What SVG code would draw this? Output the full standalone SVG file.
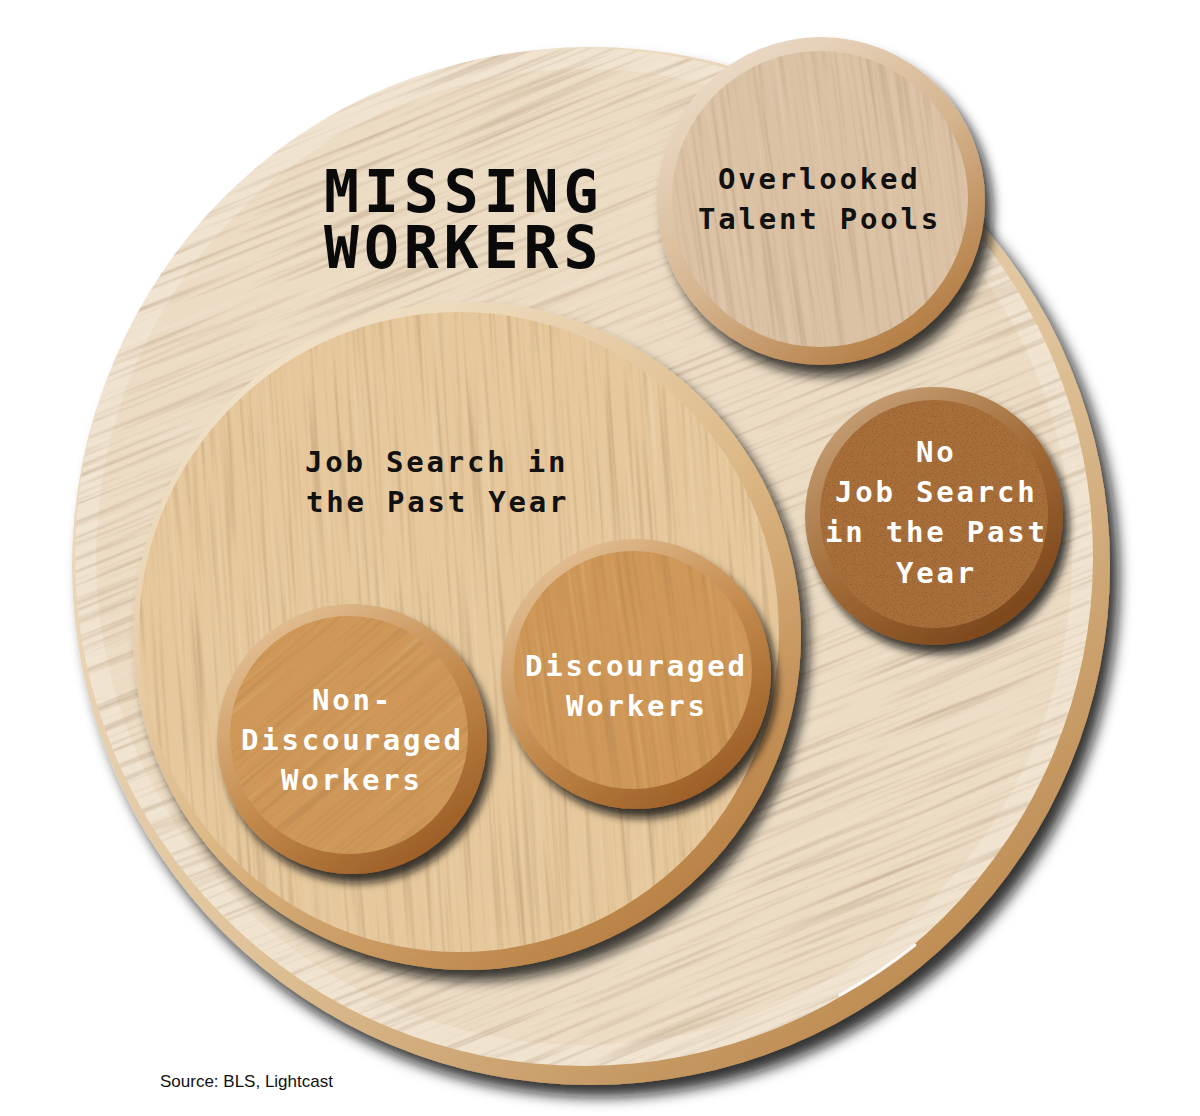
<svg xmlns="http://www.w3.org/2000/svg" width="1200" height="1116" viewBox="0 0 1200 1116">
  <style>
    .t { font-family: "DejaVu Sans Mono", "Liberation Mono", monospace; font-weight: bold; }
    .title { font-size: 58px; letter-spacing: 5px; fill: #0a0a0a; }
    .lbl { font-size: 29px; letter-spacing: 2.8px; }
    .dark { fill: #111; }
    .light { fill: #fff; }
    .src { font-family: "Liberation Sans", Arial, sans-serif; font-size: 17px; fill: #111; }
  </style>
  <defs>
    <filter id="shBoard" x="-10%" y="-10%" width="125%" height="125%">
      <feDropShadow dx="9" dy="12" stdDeviation="7" flood-color="#111" flood-opacity="0.85"/>
    </filter>
    <filter id="shBig" x="-15%" y="-15%" width="135%" height="135%">
      <feDropShadow dx="8" dy="11" stdDeviation="6" flood-color="#111" flood-opacity="0.8"/>
    </filter>
    <filter id="shSmall" x="-20%" y="-20%" width="145%" height="145%">
      <feDropShadow dx="6" dy="9" stdDeviation="4.5" flood-color="#111" flood-opacity="0.8"/>
    </filter>
    <filter id="grain" x="0" y="0" width="1" height="1" color-interpolation-filters="sRGB">
      <feTurbulence type="fractalNoise" baseFrequency="0.005 0.22" numOctaves="2" seed="7" result="n"/>
      <feColorMatrix in="n" type="matrix" values="0 0 0 0 0.5  0 0 0 0 0.36  0 0 0 0 0.22  1.4 0 0 0 -0.72" result="d"/>
      <feColorMatrix in="n" type="matrix" values="0 0 0 0 1  0 0 0 0 1  0 0 0 0 1  -1.2 0 0 0 0.46" result="l"/>
      <feMerge><feMergeNode in="d"/><feMergeNode in="l"/></feMerge>
    </filter>
    <filter id="speck" x="0" y="0" width="1" height="1" color-interpolation-filters="sRGB">
      <feTurbulence type="fractalNoise" baseFrequency="0.9" numOctaves="2" seed="3" result="n"/>
      <feColorMatrix in="n" type="matrix" values="0 0 0 0 0.3  0 0 0 0 0.18  0 0 0 0 0.08  2 0 0 0 -1.05"/>
    </filter>
    <linearGradient id="gBoard" x1="0.2" y1="0.1" x2="0.85" y2="0.95">
      <stop offset="0" stop-color="#efe0c9"/>
      <stop offset="0.55" stop-color="#e0c39a"/>
      <stop offset="1" stop-color="#b98549"/>
    </linearGradient>
    <linearGradient id="gJob" x1="0.2" y1="0.1" x2="0.8" y2="0.95">
      <stop offset="0" stop-color="#f0e0c6"/>
      <stop offset="0.5" stop-color="#ddb987"/>
      <stop offset="1" stop-color="#b77d40"/>
    </linearGradient>
    <linearGradient id="gOver" x1="0.2" y1="0.1" x2="0.8" y2="0.95">
      <stop offset="0" stop-color="#ead8c4"/>
      <stop offset="0.5" stop-color="#d5b48e"/>
      <stop offset="1" stop-color="#b27a40"/>
    </linearGradient>
    <linearGradient id="gNo" x1="0.2" y1="0.1" x2="0.8" y2="0.95">
      <stop offset="0" stop-color="#c29a6f"/>
      <stop offset="0.5" stop-color="#a06834"/>
      <stop offset="1" stop-color="#7a451b"/>
    </linearGradient>
    <linearGradient id="gDis" x1="0.2" y1="0.1" x2="0.8" y2="0.95">
      <stop offset="0" stop-color="#e0bb8e"/>
      <stop offset="0.5" stop-color="#c38a4c"/>
      <stop offset="1" stop-color="#9a5c24"/>
    </linearGradient>
    <clipPath id="cBoard"><circle cx="584" cy="557" r="509"/></clipPath>
    <clipPath id="cJob"><circle cx="459" cy="632" r="320"/></clipPath>
    <clipPath id="cOver"><circle cx="820" cy="199" r="148"/></clipPath>
    <clipPath id="cNo"><circle cx="934" cy="514" r="114"/></clipPath>
    <clipPath id="cDis"><circle cx="633" cy="670" r="119"/></clipPath>
    <clipPath id="cNon"><circle cx="349" cy="735" r="119"/></clipPath>
  </defs>

  <rect width="1200" height="1116" fill="#fff"/>

  <g id="missing-workers">
    <circle cx="591" cy="566" r="519" fill="url(#gBoard)" filter="url(#shBoard)"/>
    <circle cx="584" cy="557" r="509" fill="#f0e3cf"/>
    <circle cx="584" cy="557" r="488" fill="#ecdcc4"/>
    <g clip-path="url(#cBoard)" opacity="0.55">
      <rect x="0" y="0" width="1200" height="1200" transform="rotate(-22 584 557)" filter="url(#grain)"/>
    </g>
    <path d="M 840 995 A 509 509 0 0 0 915 945" fill="none" stroke="#fff" stroke-width="3" stroke-linecap="round" opacity="0.9"/>
    <text class="t title"><tspan x="324" y="212">MISSING</tspan><tspan x="324" y="268">WORKERS</tspan></text>
  </g>

  <g id="job-search">
    <circle cx="467" cy="636" r="334" fill="url(#gJob)" filter="url(#shBig)"/>
    <circle cx="459" cy="632" r="320" fill="#e6c89c"/>
    <g clip-path="url(#cJob)" opacity="0.5">
      <rect x="100" y="280" width="720" height="720" transform="rotate(86 459 632)" filter="url(#grain)"/>
    </g>
    <text class="t lbl dark"><tspan x="305" y="472">Job Search in</tspan><tspan x="306" y="512">the Past Year</tspan></text>
  </g>

  <g id="overlooked-talent-pools">
    <circle cx="821" cy="201" r="164" fill="url(#gOver)" filter="url(#shBig)"/>
    <circle cx="820" cy="199" r="148" fill="#dcc2a5"/>
    <g clip-path="url(#cOver)" opacity="0.45">
      <rect x="640" y="20" width="360" height="360" transform="rotate(82 820 199)" filter="url(#grain)"/>
    </g>
    <text class="t lbl dark"><tspan x="718" y="189">Overlooked</tspan><tspan x="698" y="229">Talent Pools</tspan></text>
  </g>

  <g id="no-job-search">
    <circle cx="934" cy="516" r="129" fill="url(#gNo)" filter="url(#shSmall)"/>
    <circle cx="934" cy="514" r="114" fill="#a96f3a"/>
    <g clip-path="url(#cNo)" opacity="0.5">
      <rect x="810" y="390" width="250" height="250" filter="url(#speck)"/>
    </g>
    <text class="t lbl light"><tspan x="916" y="462">No</tspan><tspan x="835" y="502">Job Search</tspan><tspan x="825" y="542">in the Past</tspan><tspan x="896" y="583">Year</tspan></text>
  </g>

  <g id="discouraged-workers">
    <circle cx="636" cy="674" r="135" fill="url(#gDis)" filter="url(#shSmall)"/>
    <circle cx="633" cy="670" r="119" fill="#cf9858"/>
    <g clip-path="url(#cDis)" opacity="0.4">
      <rect x="500" y="540" width="270" height="270" transform="rotate(82 633 670)" filter="url(#grain)"/>
    </g>
    <text class="t lbl light"><tspan x="525" y="676">Discouraged</tspan><tspan x="566" y="716">Workers</tspan></text>
  </g>

  <g id="non-discouraged-workers">
    <circle cx="352" cy="739" r="135" fill="url(#gDis)" filter="url(#shSmall)"/>
    <circle cx="349" cy="735" r="119" fill="#cf9858"/>
    <g clip-path="url(#cNon)" opacity="0.4">
      <rect x="215" y="600" width="270" height="270" transform="rotate(-40 349 735)" filter="url(#grain)"/>
    </g>
    <text class="t lbl light"><tspan x="312" y="710">Non-</tspan><tspan x="241" y="750">Discouraged</tspan><tspan x="281" y="790">Workers</tspan></text>
  </g>

  <g id="connectors"/>

  <text class="src" x="160" y="1087">Source: BLS, Lightcast</text>
</svg>
